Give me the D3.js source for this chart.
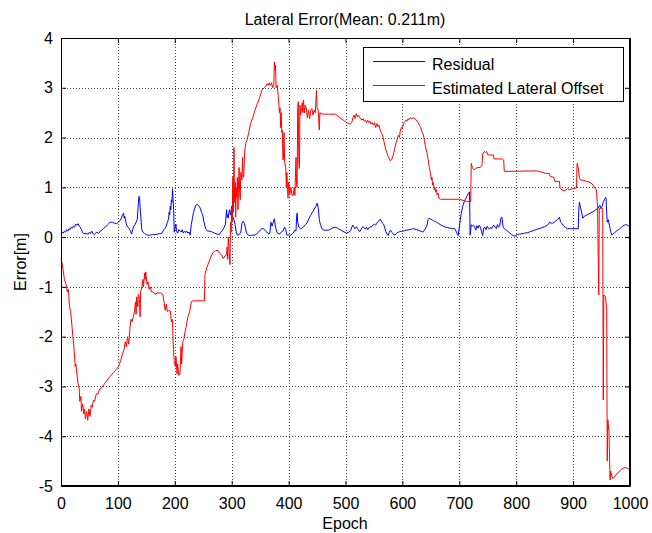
<!DOCTYPE html>
<html><head><meta charset="utf-8">
<script src="https://cdn.jsdelivr.net/npm/d3@7"></script>
<style>body{margin:0;background:#fff}svg{display:block}text{font-family:"Liberation Sans",Arial,sans-serif;fill:#000}</style>
</head><body><svg id="c" width="652" height="533"></svg>
<script>
const title = "Lateral Error(Mean: 0.211m)";
const xLabel = "Epoch";
const yLabel = "Error[m]";
const seriesNames = ["Residual", "Estimated Lateral Offset"];
const xTicks = [0,100,200,300,400,500,600,700,800,900,1000];
const yTicks = [-5,-4,-3,-2,-1,0,1,2,3,4];

const residualEpoch = [0,2,4,6,8,10,12,14,16,18,20,22,24,26,28,30,32,34,36,38,40,44,48,50,52,54,56,58,60,63,66,69,72,75,78,82,86,90,94,98,101,104,106,108,110,111,112,114,116,118,120,122,124,126,128,130,132,134,136,137,138,139,141,142,144,147,150,153,157,161,165,169,173,177,179,181,183,185,187,189,190,191,192,193,194,195,196,197,198,199,201,202,203,205,207,209,211,213,215,217,219,221,223,225,227,229,231,233,235,237,239,241,243,245,247,249,251,253,255,258,262,266,270,274,278,281,284,287,289,291,292,293,294,296,298,300,302,304,306,308,310,313,316,318,320,322,324,326,329,333,337,341,344,347,350,353,356,359,362,365,367,369,371,373,375,377,379,381,384,387,390,393,395,397,400,404,408,411,413,414,415,416,418,421,424,427,430,433,436,439,442,445,448,450,452,454,456,459,462,466,470,474,478,482,486,490,494,498,502,506,509,511,513,515,517,519,521,523,525,527,529,531,533,535,537,539,541,543,545,547,549,551,553,555,558,561,563,565,567,569,571,573,575,577,579,581,583,585,587,590,593,596,600,604,608,612,616,620,624,628,632,636,640,643,645,647,650,653,656,660,664,668,672,676,680,684,688,692,695,698,700,703,706,709,713,716,718,719,721,723,725,727,729,731,733,735,737,739,741,743,745,747,749,751,753,755,757,759,761,763,765,767,769,771,773,775,777,779,781,783,786,789,792,795,798,802,806,810,815,820,825,830,835,840,845,850,855,859,861,864,867,870,873,876,878,880,883,886,890,895,900,905,909,910,911,913,915,917,920,925,930,935,940,944,947,949,951,953,955,957,958,959,960,962,964,966,968,971,974,977,980,983,986,990,994,997,1000];
const residualValue = [0.07,0.1,0.08,0.12,0.1,0.15,0.12,0.17,0.15,0.2,0.18,0.22,0.2,0.26,0.24,0.27,0.22,0.2,0.15,0.09,0.07,0.07,0.06,0.1,0.07,0.12,0.08,0.05,0.07,0.1,0.07,0.12,0.14,0.18,0.2,0.25,0.3,0.3,0.28,0.27,0.3,0.34,0.38,0.45,0.48,0.38,0.42,0.3,0.22,0.2,0.17,0.12,0.06,0.15,0.22,0.25,0.3,0.35,0.7,0.82,0.8,0.6,0.3,0.15,0.1,0.07,0.05,0.04,0.04,0.05,0.05,0.06,0.07,0.07,0.12,0.15,0.18,0.22,0.3,0.36,0.5,0.45,0.62,0.55,0.75,0.7,0.97,0.75,0.55,0.1,0.22,0.26,0.12,0.08,0.15,0.12,0.1,0.15,0.08,0.12,0.09,0.12,0.08,0.1,0.04,0.25,0.38,0.5,0.58,0.64,0.66,0.64,0.62,0.57,0.5,0.45,0.32,0.22,0.15,0.12,0.12,0.1,0.08,0.06,0.05,0.1,0.14,0.2,0.26,0.55,0.4,0.45,0.38,0.55,0.45,0.62,0.4,0.35,0.25,0.1,0.04,0.05,0.1,0.28,0.32,0.28,0.2,0.08,0.04,0.03,0.04,0.04,0.06,0.1,0.14,0.17,0.17,0.13,0.1,0.06,0.08,0.3,0.22,0.3,0.37,0.2,0.12,0.07,0.06,0.1,0.12,0.2,0.15,0.04,0.04,0.04,0.08,0.14,0.12,0.4,0.48,0.3,0.2,0.17,0.18,0.22,0.25,0.3,0.38,0.44,0.5,0.56,0.62,0.68,0.6,0.35,0.25,0.16,0.14,0.14,0.14,0.16,0.19,0.2,0.18,0.15,0.13,0.1,0.08,0.1,0.13,0.2,0.24,0.19,0.17,0.21,0.18,0.14,0.11,0.15,0.19,0.21,0.18,0.16,0.2,0.15,0.18,0.21,0.2,0.22,0.25,0.26,0.24,0.28,0.32,0.36,0.32,0.28,0.26,0.18,0.11,0.06,0.03,0.1,0.14,0.1,0.08,0.05,0.04,0.08,0.1,0.11,0.12,0.13,0.14,0.15,0.16,0.17,0.15,0.14,0.12,0.1,0.16,0.22,0.35,0.38,0.36,0.34,0.32,0.3,0.27,0.24,0.22,0.2,0.19,0.18,0.17,0.17,0.1,0.03,0.2,0.45,0.62,0.72,0.81,0.88,0.91,0.04,0.25,0.22,0.24,0.2,0.14,0.23,0.18,0.24,0.2,0.12,0.03,0.18,0.2,0.15,0.22,0.18,0.16,0.2,0.17,0.22,0.24,0.2,0.17,0.25,0.2,0.22,0.38,0.4,0.2,0.17,0.15,0.14,0.11,0.08,0.05,0.03,0.02,0.05,0.06,0.07,0.08,0.09,0.11,0.13,0.15,0.17,0.19,0.21,0.24,0.3,0.28,0.28,0.3,0.33,0.36,0.4,0.3,0.28,0.23,0.2,0.17,0.17,0.17,0.17,0.17,0.55,0.7,0.6,0.5,0.38,0.42,0.45,0.48,0.51,0.55,0.58,0.64,0.58,0.62,0.7,0.75,0.8,0.78,0.5,0.3,0.35,0.22,0.12,0.04,0.07,0.1,0.13,0.15,0.18,0.21,0.24,0.25,0.23,0.21];

const offsetEpoch = [0,3,6,9,11,13,15,17,19,21,23,25,26,28,30,32,33,35,36,38,40,41,43,45,47,49,51,53,55,57,59,62,65,68,72,78,86,94,101,105,108,111,113,115,117,119,121,123,125,127,129,131,132,133,135,136,138,139,140,142,144,145,147,148,149,151,153,155,157,159,162,165,170,175,179,181,183,185,187,189,192,194,196,197,199,201,202,204,205,207,209,210,211,212,214,216,218,220,223,226,229,232,252,253,256,260,264,268,272,276,279,282,285,288,291,292,293,294,297,298,299,300,301,302,303,304,305,306,307,308,309,310,311,312,313,314,315,316,318,319,320,321,323,325,327,330,333,337,341,345,349,353,357,360,362,364,366,368,370,372,374,375,376,377,378,380,382,384,385,386,387,388,389,390,391,392,393,395,396,397,398,399,400,402,404,406,408,410,411,413,414,415,416,417,418,419,420,421,423,424,425,426,428,429,431,433,435,437,439,441,443,445,447,449,450,452,454,455,457,461,470,482,490,496,502,508,511,513,515,517,519,521,523,525,527,529,531,533,535,537,539,541,543,545,547,549,551,553,555,557,559,561,563,565,567,569,571,573,575,577,579,581,583,585,587,589,591,593,595,596,598,600,602,604,606,608,610,612,614,616,620,624,628,632,635,637,640,643,645,647,649,651,652,653,654,656,657,659,660,661,663,664,667,700,712,720,721,723,726,729,733,737,740,741,744,746,748,750,756,760,761,776,778,779,836,840,846,852,858,860,866,868,876,877,880,886,890,893,898,903,906,907,909,911,913,918,924,930,935,938,941,943,945,946,952,953,954,957,959,960,961,963,965,966,968,970,975,980,985,990,995,1000];
const offsetValue = [-0.42,-0.6,-0.85,-0.95,-1.1,-1.05,-1.4,-1.5,-1.75,-2.0,-2.25,-2.6,-2.55,-2.75,-2.95,-3.05,-3.3,-3.2,-3.5,-3.35,-3.55,-3.45,-3.65,-3.5,-3.68,-3.45,-3.6,-3.38,-3.42,-3.28,-3.3,-3.15,-3.15,-3.05,-3.02,-2.92,-2.8,-2.7,-2.6,-2.48,-2.35,-2.25,-2.1,-2.2,-2.0,-2.15,-1.85,-1.65,-1.7,-1.6,-1.5,-1.3,-1.55,-1.2,-1.4,-1.15,-1.25,-1.6,-1.1,-1.0,-0.85,-1.0,-0.72,-0.85,-0.7,-0.95,-0.9,-1.05,-1.0,-1.1,-1.1,-1.15,-1.12,-1.12,-1.15,-1.3,-1.47,-1.35,-1.5,-1.48,-1.48,-1.7,-1.65,-2.1,-2.5,-2.6,-2.4,-2.75,-2.55,-2.78,-2.75,-2.5,-2.2,-2.55,-2.1,-2.05,-1.9,-1.8,-1.6,-1.5,-1.3,-1.28,-1.28,-0.75,-0.62,-0.5,-0.38,-0.3,-0.27,-0.27,-0.33,-0.35,-0.43,-0.38,-0.36,-0.2,-0.45,0.0,-0.55,0.3,0.1,0.6,0.3,1.2,0.5,1.8,0.7,1.1,0.4,1.0,0.8,1.2,0.55,1.05,1.4,0.9,0.75,1.3,1.15,1.6,1.25,1.2,1.75,1.9,1.95,2.1,2.28,2.4,2.55,2.68,2.8,2.95,3.0,3.03,3.08,3.05,3.1,3.05,3.1,3.0,3.05,3.52,3.35,3.45,3.0,3.05,2.8,2.5,2.6,2.2,2.5,2.1,2.15,1.55,1.6,2.1,1.5,1.4,1.0,1.3,1.0,0.78,1.1,0.85,1.0,0.84,0.84,1.0,0.84,1.6,1.05,1.0,2.6,2.72,1.5,1.38,2.65,2.45,2.6,2.7,2.5,2.75,2.5,2.65,2.6,2.4,2.55,2.38,2.55,2.58,2.45,2.55,2.5,2.95,2.6,2.55,2.15,2.5,2.48,2.47,2.47,2.47,2.4,2.35,2.3,2.27,2.3,2.4,2.45,2.38,2.48,2.42,2.45,2.4,2.38,2.35,2.38,2.33,2.35,2.3,2.35,2.3,2.33,2.27,2.3,2.25,2.3,2.2,2.28,2.22,2.25,2.15,2.1,2.05,1.95,1.85,1.75,1.68,1.62,1.57,1.53,1.55,1.62,1.7,1.8,1.9,1.97,2.05,2.0,2.12,2.2,2.18,2.28,2.32,2.35,2.33,2.38,2.36,2.4,2.38,2.4,2.36,2.3,2.2,2.1,2.05,1.85,1.7,1.58,1.42,1.3,1.15,1.2,1.05,1.1,0.95,1.0,0.9,0.95,0.85,0.88,0.78,0.76,0.76,0.72,0.71,1.48,1.4,1.35,1.38,1.4,1.4,1.45,1.67,1.72,1.7,1.72,1.65,1.65,1.65,1.57,1.57,1.55,1.32,1.33,1.32,1.3,1.28,1.28,1.22,1.2,1.12,1.12,1.0,0.95,0.93,0.98,0.95,0.97,0.98,0.99,1.48,1.4,1.2,1.15,1.14,1.12,1.1,1.05,0.98,0.95,0.6,-1.16,0.58,0.58,-3.27,-1.16,-1.2,-1.47,-4.5,-3.67,-3.9,-4.88,-4.7,-4.8,-4.85,-4.78,-4.72,-4.66,-4.63,-4.64,-4.68];

const svg = d3.select("#c");
const L = 61, R = 630, T = 38, B = 486;
const x = d3.scaleLinear().domain([0, 1000]).range([L, R]);
const y = d3.scaleLinear().domain([-5, 4]).range([B, T]);

// grid
const grid = svg.append("g").attr("stroke", "#444").attr("stroke-width", 1).attr("stroke-dasharray", "1,2").attr("fill", "none");
xTicks.forEach(t => grid.append("line").attr("x1", Math.round(x(t)) + 0.5).attr("x2", Math.round(x(t)) + 0.5).attr("y1", T).attr("y2", B));
yTicks.forEach(t => grid.append("line").attr("y1", Math.round(y(t)) + 0.5).attr("y2", Math.round(y(t)) + 0.5).attr("x1", L).attr("x2", R));

// lines
const line = d3.line().x(d => x(d[0])).y(d => y(d[1]));
const resData = residualEpoch.map((e, i) => [e, residualValue[i]]);
const offData = offsetEpoch.map((e, i) => [e, offsetValue[i]]);
svg.append("path").datum(resData).attr("d", line).attr("fill", "none").attr("stroke", "#0000ff").attr("stroke-width", 1);
svg.append("path").datum(offData).attr("d", line).attr("fill", "none").attr("stroke", "#ff0000").attr("stroke-width", 1);

// axes (ticks inward)
const fmt = d => String(d);
const axB = svg.append("g").attr("transform", `translate(0,${B})`).call(d3.axisBottom(x).tickValues(xTicks).tickFormat(fmt).tickSizeInner(-5).tickSizeOuter(0).tickPadding(12));
const axT = svg.append("g").attr("transform", `translate(0,${T})`).call(d3.axisTop(x).tickValues(xTicks).tickFormat("").tickSizeInner(-5).tickSizeOuter(0));
const axL = svg.append("g").attr("transform", `translate(${L},0)`).call(d3.axisLeft(y).tickValues(yTicks).tickFormat(fmt).tickSizeInner(-5).tickSizeOuter(0).tickPadding(8));
const axR = svg.append("g").attr("transform", `translate(${R},0)`).call(d3.axisRight(y).tickValues(yTicks).tickFormat("").tickSizeInner(-5).tickSizeOuter(0));
[axB, axT, axL, axR].forEach(a => { a.select(".domain").attr("stroke", "#000"); a.selectAll(".tick line").attr("stroke", "#000"); a.selectAll("text").style("font-size", "16px").attr("fill", "#000").style("font-family", '"Liberation Sans",Arial,sans-serif'); });
axB.selectAll(".tick text").attr("dy", "0.71em");

// box
svg.append("rect").attr("x", L + 0.5).attr("y", T + 0.5).attr("width", R - L - 1).attr("height", B - T - 1).attr("fill", "none").attr("stroke", "#000");

// labels
svg.append("text").attr("x", 345).attr("y", 25).attr("text-anchor", "middle").style("font-size", "16px").text(title);
svg.append("text").attr("x", 345).attr("y", 529).attr("text-anchor", "middle").style("font-size", "16px").text(xLabel);
svg.append("text").attr("transform", "translate(26,262) rotate(-90)").attr("text-anchor", "middle").style("font-size", "16px").text(yLabel);

// legend
const lg = svg.append("g");
lg.append("rect").attr("x", 363.5).attr("y", 47.5).attr("width", 260).attr("height", 54).attr("fill", "#fff").attr("stroke", "#000");
const colors = ["#0000ff", "#ff0000"];
seriesNames.forEach((n, i) => {
  const yy = 61 + i * 24;
  lg.append("line").attr("x1", 373).attr("x2", 425).attr("y1", yy + 0.5).attr("y2", yy + 0.5).attr("stroke", colors[i]);
  lg.append("text").attr("x", 432).attr("y", yy + 9).style("font-size", "16px").text(n);
});
</script></body></html>
